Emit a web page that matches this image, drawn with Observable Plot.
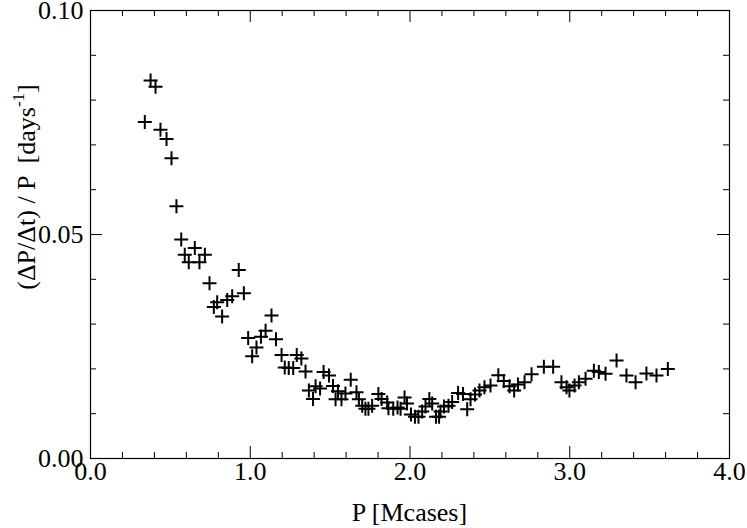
<!DOCTYPE html>
<html>
<head>
<meta charset="utf-8">
<script src="https://cdn.jsdelivr.net/npm/d3@7"></script>
<script src="https://cdn.jsdelivr.net/npm/@observablehq/plot@0.6"></script>
<style>
  html, body { margin: 0; padding: 0; background: #fff; }
  svg, svg text { font-family: "Liberation Serif", "Times New Roman", serif !important; }
</style>
</head>
<body>
<div id="chart"></div>
<script>
// P (Mcases)
const P = [
  0.340, 0.376, 0.407, 0.438, 0.476, 0.507, 0.538, 0.568, 0.590, 0.615,
  0.653, 0.682, 0.716, 0.745, 0.772, 0.793, 0.824, 0.856, 0.887, 0.928,
  0.960, 0.987, 1.012, 1.039, 1.067, 1.096, 1.133, 1.161, 1.196, 1.216,
  1.241, 1.269, 1.291, 1.320, 1.346, 1.367, 1.393, 1.409, 1.437, 1.459,
  1.493, 1.518, 1.534, 1.549, 1.571, 1.596, 1.629, 1.665, 1.680, 1.701,
  1.721, 1.740, 1.763, 1.802, 1.822, 1.857, 1.865, 1.895, 1.922, 1.941,
  1.966, 1.981, 2.006, 2.031, 2.053, 2.076, 2.097, 2.121, 2.139, 2.163,
  2.182, 2.191, 2.213, 2.241, 2.264, 2.301, 2.332, 2.358, 2.379, 2.407,
  2.435, 2.466, 2.504, 2.553, 2.587, 2.623, 2.652, 2.676, 2.717, 2.761,
  2.838, 2.896, 2.948, 2.980, 2.998, 3.030, 3.057, 3.099, 3.151, 3.182,
  3.224, 3.293, 3.355, 3.412, 3.480, 3.543, 3.614
];
// (ΔP/Δt)/P  (days^-1)
const rate = [
  0.0751, 0.0844, 0.0830, 0.0734, 0.0713, 0.0670, 0.0563, 0.0489, 0.0455, 0.0438,
  0.0470, 0.0438, 0.0455, 0.0391, 0.0338, 0.0349, 0.0317, 0.0354, 0.0362, 0.0421,
  0.0369, 0.0269, 0.0228, 0.0248, 0.0272, 0.0285, 0.0319, 0.0266, 0.0231, 0.0203,
  0.0202, 0.0202, 0.0231, 0.0223, 0.0194, 0.0152, 0.0133, 0.0161, 0.0156, 0.0193,
  0.0185, 0.0162, 0.0132, 0.0150, 0.0132, 0.0145, 0.0176, 0.0148, 0.0132, 0.0118,
  0.0111, 0.0111, 0.0118, 0.0144, 0.0133, 0.0125, 0.0112, 0.0111, 0.0114, 0.0111,
  0.0136, 0.0123, 0.0098, 0.0093, 0.0093, 0.0105, 0.0116, 0.0133, 0.0123, 0.0093,
  0.0093, 0.0105, 0.0116, 0.0118, 0.0126, 0.0146, 0.0144, 0.0110, 0.0132, 0.0143,
  0.0152, 0.0159, 0.0163, 0.0186, 0.0173, 0.0161, 0.0152, 0.0165, 0.0170, 0.0188,
  0.0205, 0.0205, 0.0170, 0.0159, 0.0152, 0.0163, 0.0170, 0.0178, 0.0196, 0.0193,
  0.0189, 0.0219, 0.0185, 0.0170, 0.0190, 0.0185, 0.0200
];

const xMajor = [0, 1, 2, 3, 4];
const xMinor = d3.range(0, 4.0001, 0.2).map(v => +v.toFixed(2)).filter(v => !xMajor.includes(v));
const yMajor = [0, 0.05, 0.10];
const yMinor = d3.range(0, 0.1001, 0.01).map(v => +v.toFixed(3)).filter(v => !yMajor.includes(v));

const data = P.map((p, i) => ({p, r: rate[i]}));

const W = 747, H = 528;
const mL = 90, mR = 18, mT = 10, mB = 70;
const innerW = W - mL - mR, innerH = H - mT - mB;
const big = 12, small = 6;
const FONT = '"Liberation Serif", "Times New Roman", serif';
const FS = 26;

const plusSymbol = {
  draw(context, size) {
    const r = Math.sqrt(size / Math.PI);
    context.moveTo(-r, 0); context.lineTo(r, 0);
    context.moveTo(0, -r); context.lineTo(0, r);
  }
};

const tickStyle = {stroke: "black", strokeWidth: 1};

const chart = Plot.plot({
  width: W,
  height: H,
  marginLeft: mL,
  marginRight: mR,
  marginTop: mT,
  marginBottom: mB,
  style: {fontFamily: FONT, fontSize: FS + "px", background: "white", color: "black", overflow: "visible"},
  x: {domain: [0, 4], label: null},
  y: {domain: [0, 0.10], label: null},
  marks: [
    Plot.frame({stroke: "black", strokeWidth: 1.2}),
    // bottom ticks
    Plot.tickX(xMajor, {x: d => d, insetTop: innerH - big, ...tickStyle}),
    Plot.tickX(xMinor, {x: d => d, insetTop: innerH - small, ...tickStyle}),
    // top ticks
    Plot.tickX(xMajor, {x: d => d, insetBottom: innerH - big, ...tickStyle}),
    Plot.tickX(xMinor, {x: d => d, insetBottom: innerH - small, ...tickStyle}),
    // left ticks
    Plot.tickY(yMajor, {y: d => d, insetRight: innerW - big, ...tickStyle}),
    Plot.tickY(yMinor, {y: d => d, insetRight: innerW - small, ...tickStyle}),
    // right ticks
    Plot.tickY(yMajor, {y: d => d, insetLeft: innerW - big, ...tickStyle}),
    Plot.tickY(yMinor, {y: d => d, insetLeft: innerW - small, ...tickStyle}),
    // labels
    Plot.axisX(xMajor, {tickSize: 0, tickPadding: 3, tickFormat: d3.format(".1f"), fontSize: FS, fill: "black"}),
    Plot.axisY(yMajor, {tickSize: 0, tickPadding: 7, tickFormat: d3.format(".2f"), fontSize: FS, fill: "black"}),
    // data
    Plot.dot(data, {x: "p", y: "r", symbol: plusSymbol, r: 7, stroke: "black", strokeWidth: 2, fill: "none"})
  ]
});

const svg = d3.select(chart).attr("font-family", FONT);
svg.append("text")
  .attr("x", mL + innerW / 2)
  .attr("y", 521)
  .attr("text-anchor", "middle")
  .attr("font-size", FS)
  .attr("fill", "black")
  .text("P [Mcases]");

const yl = svg.append("text")
  .attr("transform", `translate(35,187) rotate(-90)`)
  .attr("text-anchor", "middle")
  .attr("font-size", FS)
  .attr("fill", "black")
  .style("white-space", "pre");
yl.append("tspan").text("(\u0394P/\u0394t) / P  [days");
yl.append("tspan").attr("font-size", 17).attr("dy", -11).text("-1");
yl.append("tspan").attr("dy", 11).text("]");

svg.selectAll("text").attr("font-family", FONT);

document.getElementById("chart").appendChild(chart);
</script>
</body>
</html>
